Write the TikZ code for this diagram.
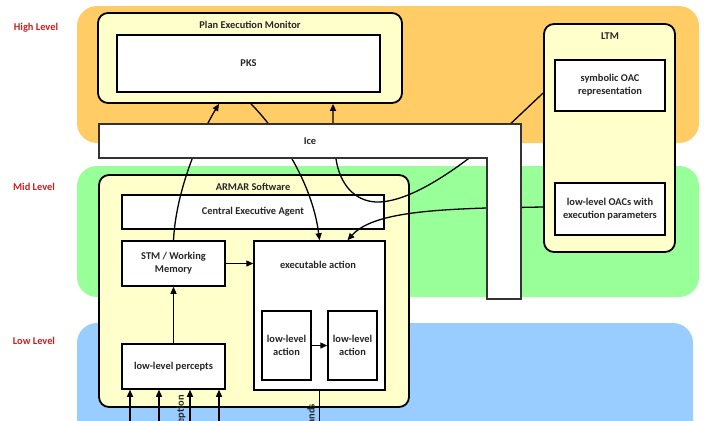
\documentclass[tikz,border=0pt]{standalone}
\usepackage{fontspec}
\setmainfont{Carlito}
\usetikzlibrary{arrows.meta,calc}
\definecolor{bandorange}{HTML}{FFCC66}
\definecolor{bandgreen}{HTML}{99FF99}
\definecolor{bandblue}{HTML}{99CCFF}
\definecolor{paleyellow}{HTML}{FFFFCC}
\definecolor{lvlred}{HTML}{CC1F1F}
\tikzset{
  txt/.style={font=\bfseries\fontsize{10.4bp}{12.7bp}\selectfont, text=black!85},
  band/.style={rounded corners=20bp},
  container/.style={draw=black, line width=1.8bp, fill=paleyellow, rounded corners=10bp, inner sep=0pt},
  box/.style={txt, draw=black, line width=1.5bp, fill=white, align=center, inner sep=0pt},
  ttl/.style={txt, inner sep=1pt},
  lvl/.style={font=\bfseries\fontsize{10.4bp}{12.7bp}\selectfont, text=lvlred},
  conn/.style={line width=1.3bp, draw=black},
  arr/.style={conn, -{Triangle[length=7bp,width=6bp]}},
  icebox/.style={draw=black!80, line width=1.3bp, fill=white}
}
\begin{document}
\begin{tikzpicture}[x=1bp,y=-1bp]
\useasboundingbox (0,0) rectangle (704,420);
\clip (0,0) rectangle (704,420);
% level bands
\fill[bandorange, band] (77,6) rectangle (699,143);
\fill[bandgreen, band] (77,166) rectangle (699,297);
\fill[bandblue, band] (77,323) rectangle (693,450);
\node[lvl] (hl) at (36,28) {High Level};
\node[lvl] (ml) at (34,187) {Mid Level};
\node[lvl] (ll) at (34,341) {Low Level};
% Plan Execution Monitor
\node[container, minimum width=304bp, minimum height=90bp] (pem) at (250,58) {};
\node[ttl] (pemt) at (250,25) {Plan Execution Monitor};
\node[box, minimum width=263bp, minimum height=57bp] (pks) at (248.5,63.5) {PKS};
% LTM
\node[container, minimum width=131bp, minimum height=228bp] (ltm) at (609.5,138) {};
\node[ttl] (ltmt) at (610,36) {LTM};
\node[box, minimum width=110bp, minimum height=51bp] (soac) at (610,85.5) {symbolic OAC\\representation};
\node[box, minimum width=110bp, minimum height=52bp] (lloac) at (610,209) {low-level OACs with\\execution parameters};
% ARMAR Software
\node[container, minimum width=310bp, minimum height=232bp] (armar) at (254,291) {};
\node[ttl] (armart) at (253,187) {ARMAR Software};
\node[box, minimum width=262bp, minimum height=34bp] (cea) at (253,212) {Central Executive Agent};
\node[box, minimum width=103bp, minimum height=45bp] (stm) at (173.5,263.5) {STM / Working\\Memory};
\node[box, minimum width=131bp, minimum height=149bp] (exec) at (319.5,315.5) {};
\node[ttl] (exect) at (318,265) {executable action};
\node[box, minimum width=49bp, minimum height=69bp] (lla1) at (286.5,345.5) {low-level\\action};
\node[box, minimum width=49bp, minimum height=69bp] (lla2) at (352.5,345.5) {low-level\\action};
\node[box, minimum width=103bp, minimum height=45bp] (llp) at (173.5,366.5) {low-level percepts};
% connectors
\draw[arr] (stm.east) -- (exec.west |- stm.east);
\draw[arr] (llp.north) -- (stm.south);
\draw[arr] (lla1.east) -- (lla2.west);
\coordinate (in1) at (130,430);
\coordinate (in2) at (159,430);
\coordinate (in3) at (190,430);
\coordinate (in4) at (219,430);
\coordinate (out1) at (319.5,430);
\foreach \c in {in1,in2,in3,in4} \draw[arr] (\c) -- (\c |- llp.south);
\draw[conn] (exec.south) -- (out1);
\node[ttl, rotate=90, anchor=east] (perc) at (181,394) {perception};
\node[ttl, rotate=90, anchor=east] (cmds) at (311,403) {commands};
\draw[arr] (stm.north) .. controls (176,190) and (200,135) .. ($(pem.south)+(-31,0)$);
\draw[arr] ($(pem.south)+(1,0)$) .. controls (275,128) and (312,180) .. (exec.north);
\draw[arr] ($(ltm.west)+(0,-45)$) -- (505,129) .. controls (460,168) and (410,203) .. (376,202)
   .. controls (355,201) and (340,185) .. (336,159) -- (333,124) -- ($(pem.south)+(83,0)$);
\draw[arr] ($(ltm.west)+(0,69)$) -- (487,208) .. controls (420,210) and (370,215) .. ($(exec.north)+(28,0)$);
% Ice (drawn on top of the connectors)
\draw[icebox] (99,124) -- (521,124) -- (521,299) -- (487,299) -- (487,158) -- (99,158) -- cycle;
\node[ttl] (ice) at (310,141) {Ice};
\end{tikzpicture}
\end{document}
